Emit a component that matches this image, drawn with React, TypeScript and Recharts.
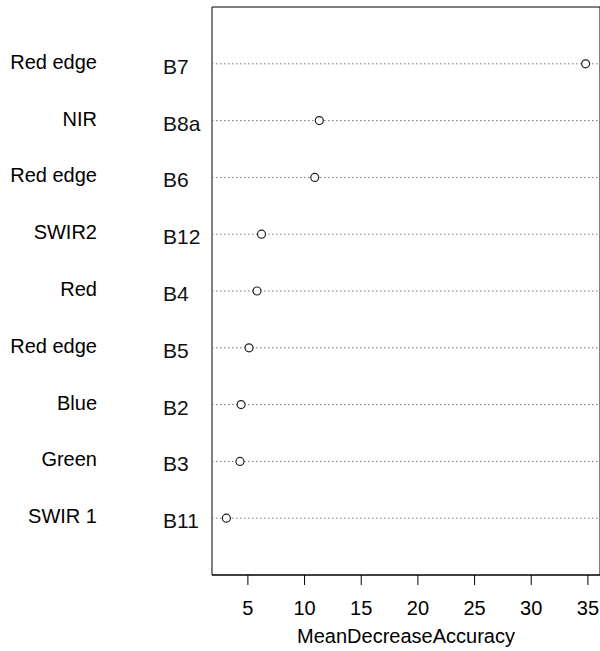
import { ReferenceArea, ReferenceLine, Scatter, ScatterChart, XAxis, YAxis } from 'recharts';

// variable importance, listed top to bottom
const bandNames = ['Red edge', 'NIR', 'Red edge', 'SWIR2', 'Red', 'Red edge', 'Blue', 'Green', 'SWIR 1'];
const bandCodes = ['B7', 'B8a', 'B6', 'B12', 'B4', 'B5', 'B2', 'B3', 'B11'];
const meanDecreaseAccuracy = [34.8, 11.3, 10.9, 6.2, 5.8, 5.1, 4.4, 4.3, 3.1];
const xTicks = [5, 10, 15, 20, 25, 30, 35];

const n = bandCodes.length;
// row 1 is the bottom line, like dotchart
const points = meanDecreaseAccuracy.map((value, i) => ({ value, row: n - i }));
const rows = points.map((p) => p.row);

// 4% padding on each side of the data range
const lo = Math.min(...meanDecreaseAccuracy);
const hi = Math.max(...meanDecreaseAccuracy);
const pad = (hi - lo) * 0.04;
const xDomain: [number, number] = [lo - pad, hi + pad];
const yDomain: [number, number] = [0, n + 1];

const font = '"Liberation Sans", Arial, sans-serif';

function RowTick(props: any) {
  const { y, payload } = props;
  const i = n - payload.value;
  if (i < 0 || i >= n) return null;
  return (
    <g fontFamily={font} fontSize={20}>
      <text x={97} y={y + 5} textAnchor="end" fill="#000">
        {bandNames[i]}
      </text>
      <text x={163} y={y + 10} textAnchor="start" fill="#111" fontSize={21}>
        {bandCodes[i]}
      </text>
    </g>
  );
}

function OpenDot(props: any) {
  const { cx, cy } = props;
  return <circle cx={cx} cy={cy} r={4} fill="#fff" stroke="#222" strokeWidth={1.2} />;
}

function AxisTitle(props: any) {
  const { viewBox } = props;
  return (
    <text x={viewBox.x + viewBox.width / 2} y={viewBox.y + 68} textAnchor="middle" fontFamily={font} fontSize={20} fill="#000">
      MeanDecreaseAccuracy
    </text>
  );
}

export default function App() {
  return (
    <div style={{ width: 600, height: 651, overflow: 'hidden', background: '#fff' }}>
      <style>{'body{margin:0}'}</style>
      <ScatterChart width={620} height={651} margin={{ top: 7, right: 20, bottom: 0, left: 0 }}>
        <XAxis
          type="number"
          dataKey="value"
          domain={xDomain}
          ticks={xTicks}
          allowDataOverflow
          height={76}
          tickSize={10}
          tickMargin={16}
          stroke="#000"
          tick={{ fontSize: 20, fill: '#000', fontFamily: font }}
          label={<AxisTitle />}
        />
        <YAxis
          type="number"
          dataKey="row"
          domain={yDomain}
          ticks={rows}
          allowDataOverflow
          width={212}
          axisLine={false}
          tickLine={false}
          tick={<RowTick />}
        />
        {rows.map((r) => (
          <ReferenceLine key={r} y={r} stroke="#777" strokeDasharray="1.5 2.5" />
        ))}
        <ReferenceArea x1={xDomain[0]} x2={xDomain[1]} y1={yDomain[0]} y2={yDomain[1]} fill="none" stroke="#000" strokeOpacity={1} fillOpacity={0} />
        <Scatter data={points} shape={<OpenDot />} isAnimationActive={false} />
      </ScatterChart>
    </div>
  );
}
